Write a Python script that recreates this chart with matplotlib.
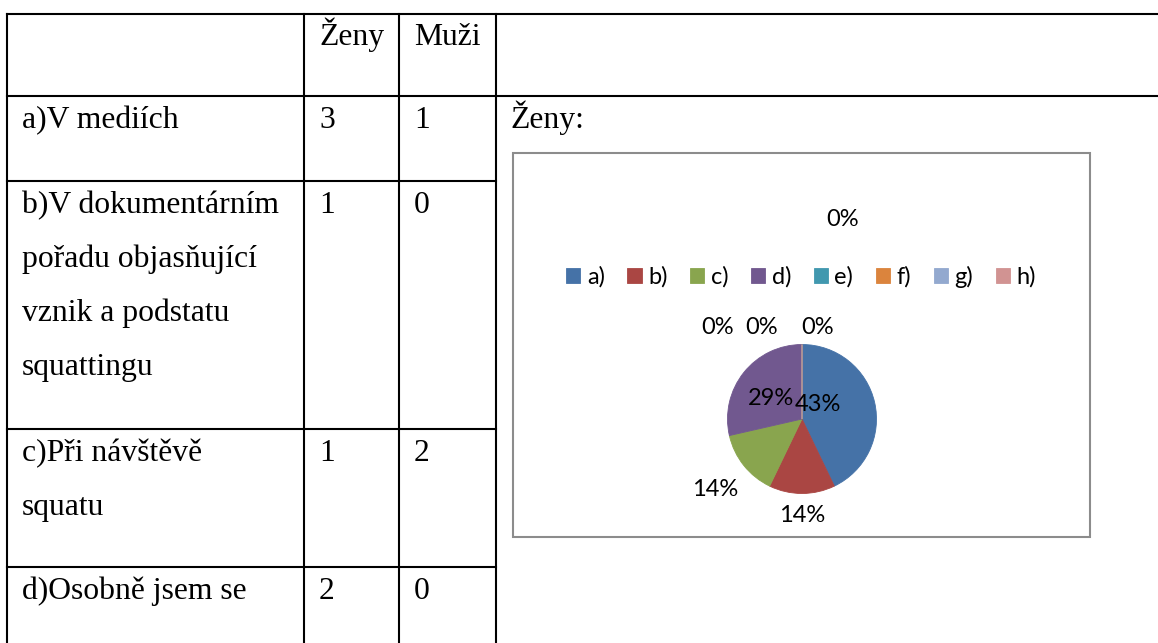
import matplotlib
matplotlib.use("Agg")
import matplotlib.pyplot as plt
from matplotlib.patches import Rectangle
import numpy as np

# ---------------- data ----------------
header = ["", "Ženy", "Muži"]
row_labels = [
    "a)V mediích",
    "b)V dokumentárním\npořadu objasňující\nvznik a podstatu\nsquattingu",
    "c)Při návštěvě\nsquatu",
    "d)Osobně jsem se",
]
zeny = [3, 1, 1, 2]
muzi = [1, 0, 2, 0]

pie_title = "Ženy:"
pie_labels = ["a)", "b)", "c)", "d)", "e)", "f)", "g)", "h)"]
pie_values = [3, 1, 1, 2, 0, 0, 0, 0]
pie_colors = ["#4572A7", "#AA4643", "#89A54E", "#71588F",
              "#4198AF", "#DB843D", "#93A9CF", "#D19392"]

# ---------------- layout ----------------
W, H = 1158, 643
fig = plt.figure(figsize=(W / 100, H / 100), dpi=100)
bg = fig.add_axes([0, 0, 1, 1])
bg.set_xlim(0, W)
bg.set_ylim(H, 0)
bg.axis("off")

serif = ["Liberation Serif", "DejaVu Serif"]
sans = ["Lato", "DejaVu Sans"]
fs_table = 22.8
lw = 1.5

col_x = [7, 304, 399, 496]
row_y = [14, 96, 181, 429, 567]
line_gap = 54
pad_x = 15
base_off = 32

# horizontal lines
for i, y in enumerate(row_y):
    x_end = W if i < 2 else col_x[-1]
    bg.plot([col_x[0], x_end], [y, y], color="black", lw=lw, solid_capstyle="projecting")
# vertical lines
for x in col_x:
    bg.plot([x, x], [row_y[0], H], color="black", lw=lw, solid_capstyle="projecting")

# header
for j, txt in enumerate(header):
    bg.text(col_x[j] + pad_x, row_y[0] + base_off - 1, txt, fontsize=fs_table,
            family=serif, va="baseline", ha="left")

# rows
for i, lab in enumerate(row_labels):
    top = row_y[i + 1]
    for k, line in enumerate(lab.split("\n")):
        bg.text(col_x[0] + pad_x, top + base_off + k * line_gap, line,
                fontsize=fs_table, family=serif, va="baseline", ha="left")
    bg.text(col_x[1] + pad_x, top + base_off, str(zeny[i]), fontsize=fs_table,
            family=serif, va="baseline", ha="left")
    bg.text(col_x[2] + pad_x, top + base_off, str(muzi[i]), fontsize=fs_table,
            family=serif, va="baseline", ha="left")

# chart title in merged cell
bg.text(col_x[3] + 14, row_y[1] + base_off, pie_title, fontsize=fs_table,
        family=serif, va="baseline", ha="left")

# chart frame
bg.add_patch(Rectangle((513, 153), 1090 - 513, 537 - 153, fill=False,
                       edgecolor="#8C8C8C", lw=1.5))

# ---------------- pie ----------------
cx, cy, r = 802, 419, 74.5
pax = fig.add_axes([(cx - r) / W, 1 - (cy + r) / H, 2 * r / W, 2 * r / H])
wedges, _ = pax.pie(pie_values, colors=pie_colors, startangle=90,
                    counterclock=False, radius=1,
                    wedgeprops=dict(linewidth=0.6))
for w, c in zip(wedges, pie_colors):
    w.set_edgecolor(c)
pax.set_xlim(-1, 1)
pax.set_ylim(-1, 1)
pax.set_aspect("equal")
pax.axis("off")

# data labels (Excel "best fit" placement, in radius units)
label_pos = [(0.22, 0.20), (0.0, -1.30), (-1.17, -0.95), (-0.42, 0.27),
             (-1.13, 1.23), (-0.54, 1.23), (0.21, 1.23), (0.55, 2.68)]
total = sum(pie_values)
fs_pie = 17
for v, (lx, ly) in zip(pie_values, label_pos):
    pax.text(lx, ly, f"{round(100 * v / total)}%", ha="center", va="center",
             fontsize=fs_pie, family=sans, color="black", clip_on=False)

# legend
fig.legend(wedges, pie_labels, ncol=8, loc="center",
           bbox_to_anchor=(801 / W, 1 - 277 / H), frameon=False,
           prop=dict(family=sans, size=fs_pie),
           handlelength=0.6, handleheight=0.6, handletextpad=0.28,
           columnspacing=0.95, borderpad=0)

fig.savefig("out.png", dpi=100, facecolor="white")
